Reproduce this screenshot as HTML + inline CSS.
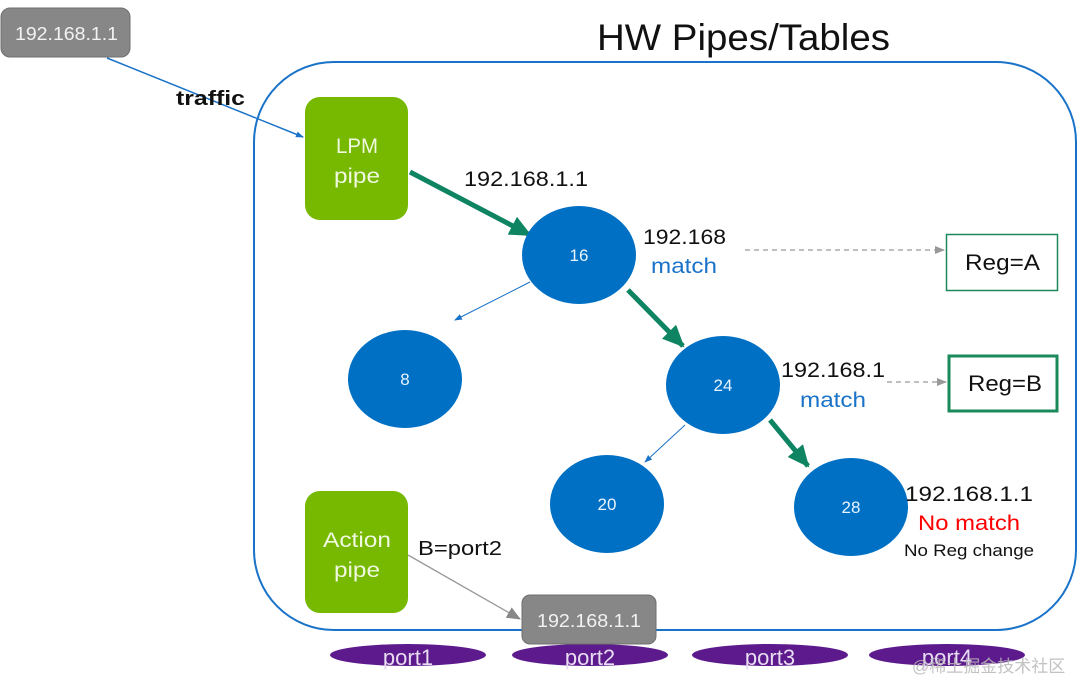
<!DOCTYPE html>
<html><head><meta charset="utf-8"><style>
html,body{margin:0;padding:0;background:#fff;}
svg{display:block;font-family:"Liberation Sans","Noto Sans CJK SC",sans-serif;}
</style></head><body>
<svg width="1080" height="684" viewBox="0 0 1080 684" xmlns="http://www.w3.org/2000/svg">
<defs>
<marker id="ab" markerWidth="8" markerHeight="8" refX="7" refY="4" orient="auto" markerUnits="userSpaceOnUse"><path d="M0,1 L8,4 L0,7 z" fill="#1a73c8"/></marker>
<marker id="ag" markerWidth="22" markerHeight="20" refX="20" refY="10" orient="auto" markerUnits="userSpaceOnUse"><path d="M0,0 L22,10 L0,20 z" fill="#0e8463"/></marker>
<marker id="agr" markerWidth="10" markerHeight="10" refX="9" refY="5" orient="auto" markerUnits="userSpaceOnUse"><path d="M0,1 L10,5 L0,9 z" fill="#999"/></marker>
<marker id="agr2" markerWidth="14" markerHeight="14" refX="13" refY="7" orient="auto" markerUnits="userSpaceOnUse"><path d="M0,1 L14,7 L0,13 z" fill="#888"/></marker>
</defs>
<rect x="254" y="62" width="822" height="568" rx="80" fill="none" stroke="#1a73c8" stroke-width="2"/>
<text x="597" y="50" font-size="37" fill="#111" textLength="293" lengthAdjust="spacingAndGlyphs">HW Pipes/Tables</text>
<rect x="1" y="8" width="129" height="49" rx="9" fill="#878787" stroke="#6f6f6f"/>
<text x="15" y="40" font-size="18" fill="#f2f2f2" textLength="103" lengthAdjust="spacingAndGlyphs">192.168.1.1</text>
<line x1="107" y1="58" x2="303" y2="137" stroke="#1a73c8" stroke-width="1.5" marker-end="url(#ab)"/>
<text x="176" y="105" font-size="20" font-weight="bold" fill="#111" textLength="69" lengthAdjust="spacingAndGlyphs">traffic</text>
<rect x="305" y="97" width="103" height="123" rx="15" fill="#76b900"/>
<text x="336" y="153" font-size="21" fill="#f0f8e0" textLength="42" lengthAdjust="spacingAndGlyphs">LPM</text>
<text x="334" y="183" font-size="21" fill="#f0f8e0" textLength="46" lengthAdjust="spacingAndGlyphs">pipe</text>
<line x1="410" y1="172" x2="530" y2="235" stroke="#0e8463" stroke-width="5" marker-end="url(#ag)"/>
<text x="464" y="186" font-size="21" fill="#111" textLength="124" lengthAdjust="spacingAndGlyphs">192.168.1.1</text>
<line x1="530" y1="282" x2="455" y2="320" stroke="#1a73c8" stroke-width="1" marker-end="url(#ab)"/>
<line x1="628" y1="290" x2="683" y2="346" stroke="#0e8463" stroke-width="5" marker-end="url(#ag)"/>
<line x1="685" y1="425" x2="645" y2="462" stroke="#1a73c8" stroke-width="1" marker-end="url(#ab)"/>
<line x1="770" y1="420" x2="808" y2="466" stroke="#0e8463" stroke-width="5" marker-end="url(#ag)"/>
<g fill="#0070c4">
<ellipse cx="579" cy="255" rx="57" ry="49"/>
<ellipse cx="405" cy="379" rx="57" ry="49"/>
<ellipse cx="723" cy="385" rx="57" ry="49"/>
<ellipse cx="607" cy="504" rx="57" ry="49"/>
<ellipse cx="851" cy="507" rx="57" ry="49"/>
</g>
<g font-size="17" fill="#e8f4ff" text-anchor="middle">
<text x="579" y="261">16</text><text x="405" y="385">8</text><text x="723" y="391">24</text><text x="607" y="510">20</text><text x="851" y="513">28</text>
</g>
<text x="643" y="244" font-size="21" fill="#111" textLength="83" lengthAdjust="spacingAndGlyphs">192.168</text>
<text x="651" y="273" font-size="21" fill="#1a73c8" textLength="66" lengthAdjust="spacingAndGlyphs">match</text>
<line x1="745" y1="250" x2="944" y2="250" stroke="#999" stroke-width="1.3" stroke-dasharray="5,4" marker-end="url(#agr)"/>
<rect x="946.5" y="234.5" width="111" height="56" fill="#fff" stroke="#1a8a5a" stroke-width="1.5"/>
<text x="965" y="270" font-size="22" fill="#111" textLength="75" lengthAdjust="spacingAndGlyphs">Reg=A</text>
<text x="781" y="377" font-size="21" fill="#111" textLength="104" lengthAdjust="spacingAndGlyphs">192.168.1</text>
<text x="800" y="407" font-size="21" fill="#1a73c8" textLength="66" lengthAdjust="spacingAndGlyphs">match</text>
<line x1="887" y1="382" x2="946" y2="382" stroke="#999" stroke-width="1.3" stroke-dasharray="5,4" marker-end="url(#agr)"/>
<rect x="949" y="356" width="108" height="55" fill="#fff" stroke="#1a8a5a" stroke-width="3"/>
<text x="968" y="391" font-size="22" fill="#111" textLength="74" lengthAdjust="spacingAndGlyphs">Reg=B</text>
<text x="905" y="501" font-size="21" fill="#111" textLength="128" lengthAdjust="spacingAndGlyphs">192.168.1.1</text>
<text x="918" y="530" font-size="21" fill="#f00" textLength="102" lengthAdjust="spacingAndGlyphs">No match</text>
<text x="904" y="556" font-size="17" fill="#111" textLength="130" lengthAdjust="spacingAndGlyphs">No Reg change</text>
<rect x="305" y="491" width="103" height="122" rx="15" fill="#76b900"/>
<text x="323" y="547" font-size="21" fill="#f0f8e0" textLength="68" lengthAdjust="spacingAndGlyphs">Action</text>
<text x="334" y="577" font-size="21" fill="#f0f8e0" textLength="46" lengthAdjust="spacingAndGlyphs">pipe</text>
<text x="418" y="555" font-size="20" fill="#111" textLength="84" lengthAdjust="spacingAndGlyphs">B=port2</text>
<line x1="408" y1="555" x2="520" y2="619" stroke="#999" stroke-width="1.3" marker-end="url(#agr2)"/>
<g fill="#5c1a8c">
<ellipse cx="408" cy="655" rx="78" ry="11"/>
<ellipse cx="590" cy="655" rx="78" ry="11"/>
<ellipse cx="770" cy="655" rx="78" ry="11"/>
<ellipse cx="947" cy="655" rx="78" ry="11"/>
</g>
<rect x="522" y="595" width="134" height="49" rx="8" fill="#878787" stroke="#6f6f6f"/>
<text x="537" y="627" font-size="18" fill="#f2f2f2" textLength="104" lengthAdjust="spacingAndGlyphs">192.168.1.1</text>
<g font-size="22" fill="#e8dcf2" text-anchor="middle">
<text x="408" y="665">port1</text><text x="590" y="665">port2</text><text x="770" y="665">port3</text><text x="947" y="665">port4</text>
</g>
<text x="912" y="672" font-size="17" fill="#b8b8b8" opacity="0.85">@稀土掘金技术社区</text>
</svg>
</body></html>
